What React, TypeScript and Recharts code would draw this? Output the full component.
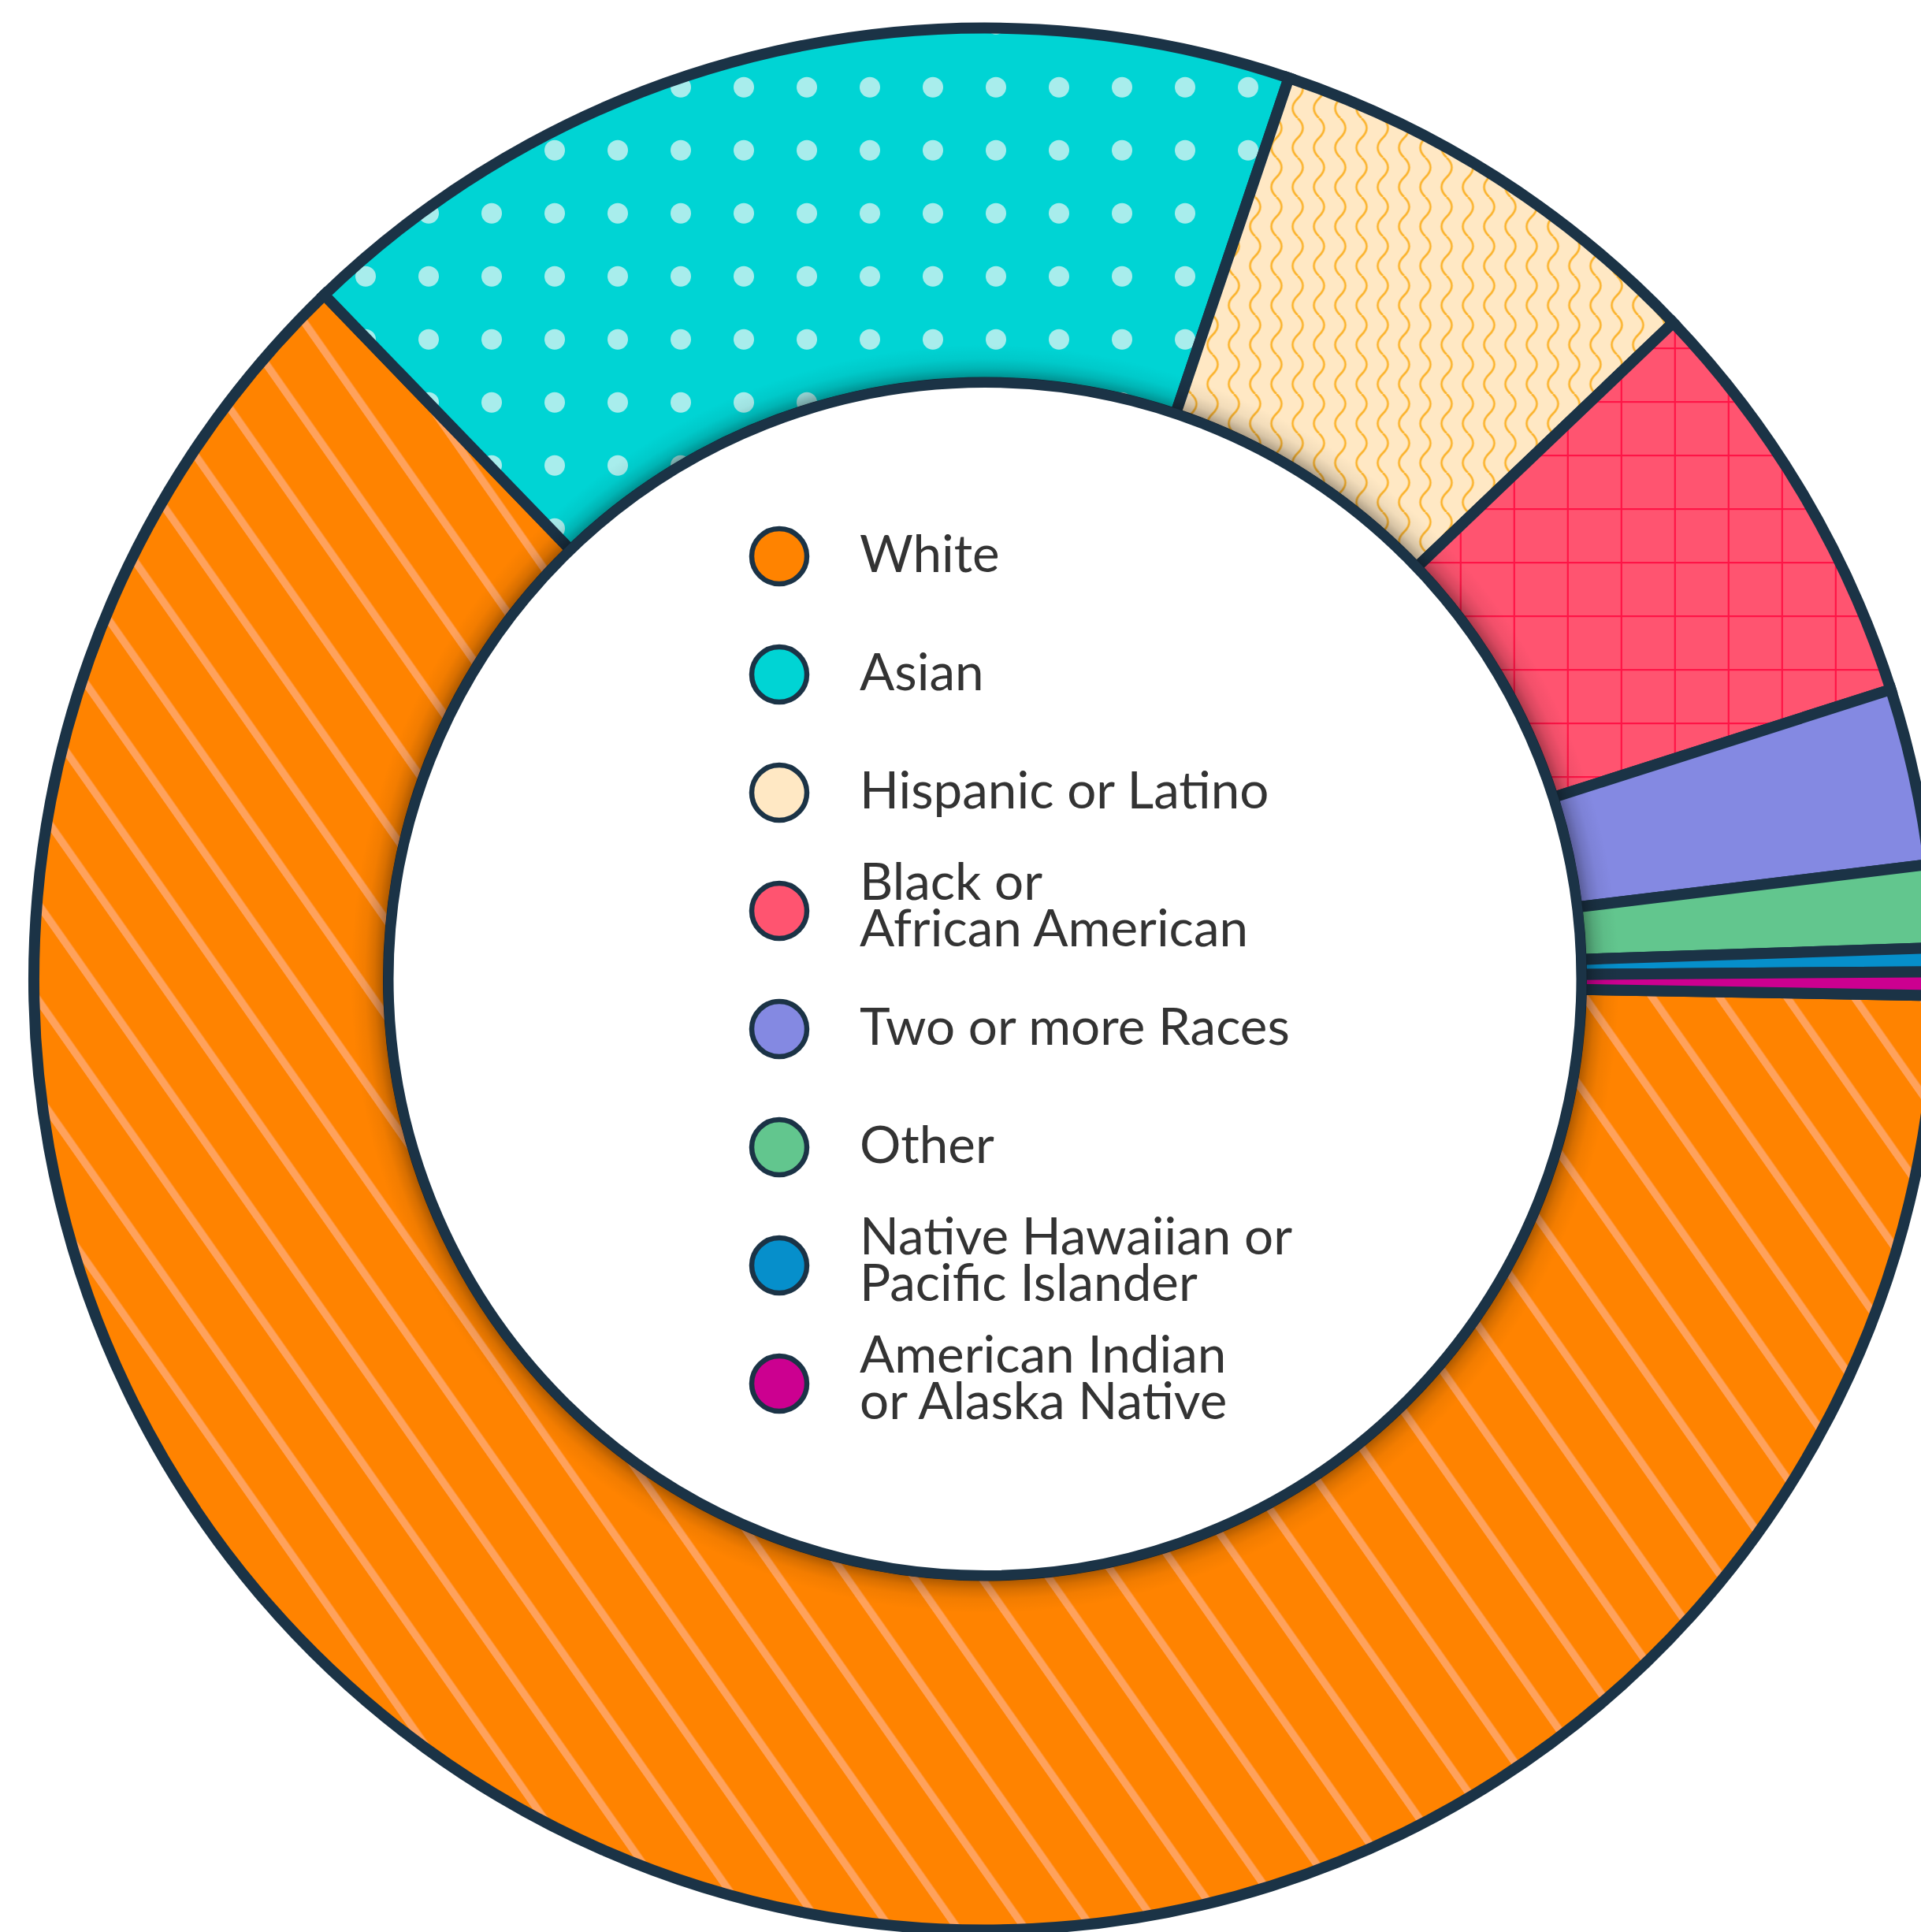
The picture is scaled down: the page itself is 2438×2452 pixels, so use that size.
import React from 'react';
import { PieChart, Pie, Cell } from 'recharts';

// ---- data ----
const CATEGORIES = [
  'White',
  'Asian',
  'Hispanic or Latino',
  'Black or African American',
  'Two or more Races',
  'Other',
  'Native Hawaiian or Pacific Islander',
  'American Indian or Alaska Native',
];
const SHARES = [62.5, 17.4, 7.7, 7.2, 3.0, 1.4, 0.4, 0.4];
const COLORS = ['#FF8300', '#00D4D4', '#FFE8C4', '#FF5470', '#8489E2', '#62C68E', '#068FCB', '#CC0090'];
const LEGEND_LINES = [
  ['White'],
  ['Asian'],
  ['Hispanic or Latino'],
  ['Black or', 'African American'],
  ['Two or more Races'],
  ['Other'],
  ['Native Hawaiian or', 'Pacific Islander'],
  ['American Indian', 'or Alaska Native'],
];
const PATTERNS = ['url(#pat-stripes)', 'url(#pat-dots)', 'url(#pat-waves)', 'url(#pat-grid)', null, null, null, null];

const data = CATEGORIES.map((name, i) => ({ name, value: SHARES[i] }));

// ---- layout ----
const W = 2438;
const H = 2452;
const CX = 1250;
const CY = 1242.5;
const OUTER = 1207;
const INNER = 757;
const SHADOW = 48;
const DARK = '#1b3346';

const FONT = 'Lato, "Noto Sans", sans-serif';
const FS = 65.5;

function Overlay() {
  const R = INNER + SHADOW;
  const off = (d: number) => (INNER + d) / R;
  return (
    <svg
      width={W}
      height={H}
      style={{ position: 'absolute', left: 0, top: 0, pointerEvents: 'none' }}
    >
      <defs>
        <radialGradient id="inner-shadow" gradientUnits="userSpaceOnUse" cx={CX} cy={CY} r={R}>
          <stop offset={0} stopColor="#000" stopOpacity={0.42} />
          <stop offset={off(0)} stopColor="#000" stopOpacity={0.42} />
          <stop offset={off(8)} stopColor="#000" stopOpacity={0.3} />
          <stop offset={off(18)} stopColor="#000" stopOpacity={0.15} />
          <stop offset={off(30)} stopColor="#000" stopOpacity={0.05} />
          <stop offset={1} stopColor="#000" stopOpacity={0} />
        </radialGradient>
      </defs>
      <circle cx={CX} cy={CY} r={R} fill="url(#inner-shadow)" />
      <circle cx={CX} cy={CY} r={INNER} fill="#fff" stroke={DARK} strokeWidth={13} />
      <g>
        {LEGEND_LINES.map((lines, i) => {
          const cy = 706 + i * 150;
          return (
            <g key={i}>
              <circle cx={989} cy={cy} r={35} fill={COLORS[i]} stroke={DARK} strokeWidth={6.5} />
              {lines.length === 1 ? (
                <text x={1091} y={cy + 20} fontFamily={FONT} fontSize={FS} fill="#333333">
                  {lines[0]}
                </text>
              ) : (
                <text fontFamily={FONT} fontSize={FS} fill="#333333">
                  <tspan x={1091} y={cy - 14}>{lines[0]}</tspan>
                  <tspan x={1091} y={cy + 45}>{lines[1]}</tspan>
                </text>
              )}
            </g>
          );
        })}
      </g>
    </svg>
  );
}

export default function App() {
  return (
    <div style={{ position: 'absolute', left: 0, top: 0, width: W, height: H, overflow: 'hidden', background: '#fff' }}>
      <PieChart width={W} height={H} margin={{ top: 0, right: 0, bottom: 0, left: 0 }}>
        <defs>
          <pattern id="pat-stripes" patternUnits="userSpaceOnUse" width={70} height={70} patternTransform="rotate(-35)">
            <rect x={0} y={0} width={70} height={70} fill={COLORS[0]} />
            <rect x={7} y={0} width={9.5} height={70} fill="#FFA25C" />
          </pattern>
          <pattern id="pat-dots" patternUnits="userSpaceOnUse" width={80} height={80}>
            <rect x={0} y={0} width={80} height={80} fill={COLORS[1]} />
            <circle cx={64} cy={30.7} r={13} fill="#A8EDEC" />
          </pattern>
          <pattern id="pat-waves" patternUnits="userSpaceOnUse" width={27} height={50} x={13.5}>
            <rect x={0} y={0} width={27} height={50} fill={COLORS[2]} />
            <path d="M13.5,0 Q26.5,12.5 13.5,25 Q0.5,37.5 13.5,50" fill="none" stroke="#FBB22A" strokeWidth={2.6} />
          </pattern>
          <pattern id="pat-grid" patternUnits="userSpaceOnUse" width={68} height={68}>
            <rect x={0} y={0} width={68} height={68} fill={COLORS[3]} />
            <rect x={16.7} y={0} width={2.2} height={68} fill="#FF1446" />
            <rect x={0} y={33} width={68} height={2.2} fill="#FF1446" />
          </pattern>
        </defs>
        <Pie
          data={data}
          dataKey="value"
          nameKey="name"
          cx={CX}
          cy={CY}
          innerRadius={INNER}
          outerRadius={OUTER}
          startAngle={-1}
          endAngle={-361}
          isAnimationActive={false}
          stroke={DARK}
          strokeWidth={14}
        >
          {data.map((d, i) => (
            <Cell key={d.name} fill={PATTERNS[i] || COLORS[i]} stroke={DARK} strokeWidth={14} />
          ))}
        </Pie>
      </PieChart>
      <Overlay />
    </div>
  );
}
